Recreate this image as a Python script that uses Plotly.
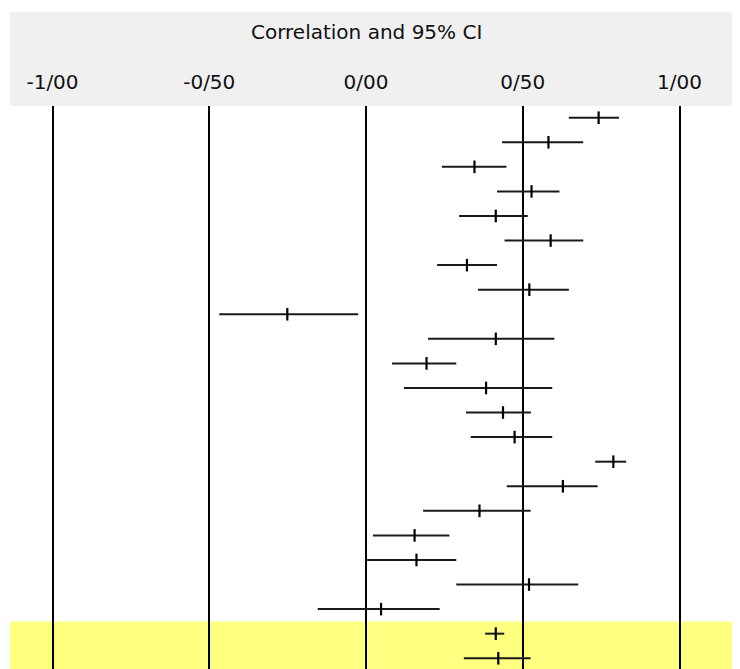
import plotly.graph_objects as go

studies = [f"Study {i}" for i in range(1, 22)] + ["Fixed", "Random"]
corr = [0.742, 0.582, 0.346, 0.528, 0.414, 0.589, 0.322, 0.521, -0.251, 0.414,
        0.193, 0.383, 0.437, 0.474, 0.789, 0.628, 0.362, 0.155, 0.161, 0.520,
        0.048, 0.414, 0.422]
lower = [0.647, 0.434, 0.242, 0.418, 0.297, 0.442, 0.227, 0.357, -0.468, 0.198,
         0.083, 0.121, 0.319, 0.334, 0.731, 0.449, 0.182, 0.022, 0.003, 0.288,
         -0.154, 0.380, 0.312]
upper = [0.807, 0.693, 0.448, 0.617, 0.516, 0.693, 0.418, 0.647, -0.025, 0.601,
         0.288, 0.594, 0.526, 0.594, 0.830, 0.739, 0.525, 0.266, 0.288, 0.677,
         0.235, 0.441, 0.525]
tick_vals = [-1.0, -0.5, 0.0, 0.5, 1.0]
tick_text = ["-1/00", "-0/50", "0/00", "0/50", "1/00"]
title_text = "Correlation and 95% CI"

# page body adds an 8px margin, so the figure is drawn 8px smaller and offset
OFF = 8
W, H = 740 - OFF, 669 - OFF
top = 106 - OFF
plot_h = H - top
ref_bottom = OFF + H
x0px, scale = 366.0, 313.5  # reference pixel of value 0 and pixels per unit
row1_px, row_step = 117.7, 24.57
x_left = (OFF - x0px) / scale
x_right = (740 - x0px) / scale
y_top = (106 - row1_px) / row_step
y_bot = (ref_bottom - row1_px) / row_step

err_plus = [u - c for u, c in zip(upper, corr)]
err_minus = [c - l for c, l in zip(corr, lower)]

fig = go.Figure()
fig.add_trace(go.Scatter(
    x=corr, y=studies, mode="markers",
    marker=dict(symbol="line-ns-open", size=9, color="black",
                line=dict(color="black", width=2.2)),
    error_x=dict(type="data", symmetric=False, array=err_plus,
                 arrayminus=err_minus, width=0, thickness=2, color="#1a1a1a"),
    showlegend=False, cliponaxis=False,
))

n = len(studies)
fig.update_layout(
    width=W, height=H,
    margin=dict(l=0, r=0, t=top, b=0),
    paper_bgcolor="white", plot_bgcolor="rgba(0,0,0,0)",
    font=dict(family="DejaVu Sans", size=20, color="#111111"),
    xaxis=dict(range=[x_left, x_right], side="top", tickvals=tick_vals,
               ticktext=tick_text, showgrid=True, gridcolor="black",
               gridwidth=2, zeroline=False, showline=False, ticks="",
               ticklabelstandoff=12, tickfont=dict(size=20),
               fixedrange=True),
    yaxis=dict(type="category", categoryorder="array", categoryarray=studies,
               range=[y_bot, y_top], showticklabels=False,
               showgrid=False, zeroline=False, showline=False, ticks=""),
    shapes=[
        dict(type="rect", xref="paper", yref="paper", x0=(10 - OFF) / W, x1=1,
             y0=1, y1=1 + (106 - 12) / plot_h, fillcolor="#f0f0f0",
             line=dict(width=0), layer="below"),
        dict(type="rect", xref="paper", yref="y", x0=(10 - OFF) / W, x1=1,
             y0=n - 2 - 0.5, y1=y_bot, fillcolor="#ffff80",
             line=dict(width=0), layer="below"),
    ],
    annotations=[
        dict(text=title_text, xref="x", yref="paper", x=0.0,
             y=1 + (106 - 32) / plot_h, showarrow=False,
             xanchor="center", yanchor="middle", font=dict(size=20)),
    ],
)

fig.write_html("out.html")
